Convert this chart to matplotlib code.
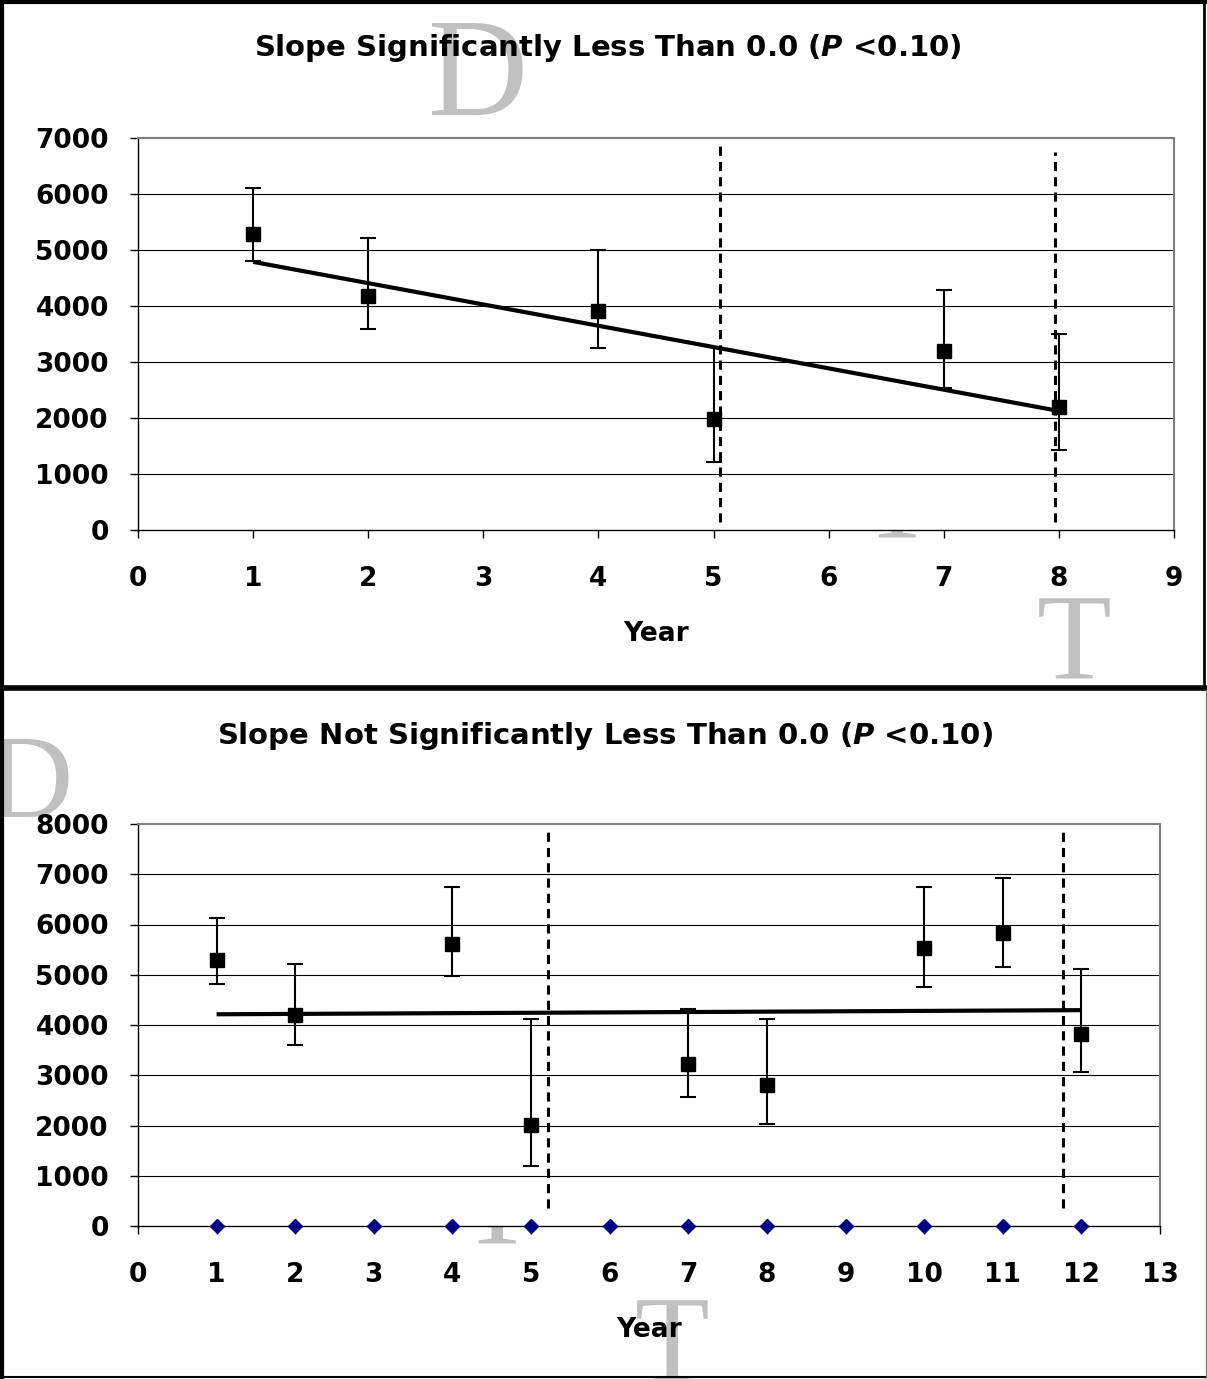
import numpy as np
import matplotlib
matplotlib.use("Agg")
import matplotlib.pyplot as plt
from matplotlib.lines import Line2D

plt.rcParams['font.family'] = ['DejaVu Sans']
plt.rcParams['font.weight'] = 'bold'
plt.rcParams['mathtext.fontset'] = 'custom'
plt.rcParams['mathtext.it'] = 'DejaVu Sans:italic:bold'
plt.rcParams['mathtext.rm'] = 'DejaVu Sans:bold'
plt.rcParams['mathtext.bf'] = 'DejaVu Sans:bold'

# ---------------- data ----------------
top_title = "Slope Significantly Less Than 0.0 ($P$ <0.10)"
top_years = [1, 2, 4, 5, 7, 8]
top_values = [5284, 4182, 3913, 1980, 3190, 2193]
top_upper = [6106, 5213, 5000, 3264, 4283, 3497]
top_lower = [4800, 3592, 3258, 1221, 2532, 1430]
top_xticks = list(range(0, 10))
top_yticks = list(range(0, 8000, 1000))
top_cut_x = [5.06, 7.97]
top_cut_y0 = [148, 148]
top_cut_y1 = [6860, 6750]

bot_title = "Slope Not Significantly Less Than 0.0 ($P$ <0.10)"
bot_years = [1, 2, 4, 5, 7, 8, 10, 11, 12]
bot_values = [5299, 4203, 5605, 2006, 3215, 2797, 5526, 5831, 3819]
bot_upper = [6129, 5213, 6741, 4118, 4317, 4118, 6741, 6926, 5108]
bot_lower = [4808, 3594, 4968, 1203, 2570, 2032, 4761, 5147, 3056]
bot_zero_x = list(range(1, 13))
bot_zero_y = [0] * 12
bot_xticks = list(range(0, 14))
bot_yticks = list(range(0, 9000, 1000))
bot_cut_x = [5.21, 11.76]
bot_cut_y0 = [352, 352]
bot_cut_y1 = [7896, 7896]

W, H = 1207, 1379
fig = plt.figure(figsize=(W / 100, H / 100), dpi=100)
fig.patch.set_facecolor('white')

FS = 19
TFS = 21
GREY_WM = '#c0c0c0'


def fx(px):
    return px / W


def fy(py):
    return 1 - py / H


def make_axes(rect, years, vals, up, lo, xticks, yticks, xmax, ymax,
              cut_x, cut_y0, cut_y1):
    ax = fig.add_axes(rect)
    ax.set_facecolor('white')
    ax.set_xlim(0, xmax)
    ax.set_ylim(0, ymax)
    ax.set_xticks(xticks)
    ax.set_yticks(yticks)
    ax.set_xticklabels([str(t) for t in xticks])
    ax.set_yticklabels([str(t) for t in yticks])
    for t in yticks[1:-1]:
        ax.axhline(t, color='black', lw=0.8, zorder=1)
    ax.spines['left'].set_color('black')
    ax.spines['bottom'].set_color('black')
    ax.spines['left'].set_linewidth(1.0)
    ax.spines['bottom'].set_linewidth(1.0)
    ax.spines['top'].set_color('#808080')
    ax.spines['right'].set_color('#808080')
    ax.spines['top'].set_linewidth(1.5)
    ax.spines['right'].set_linewidth(1.5)
    ax.tick_params(axis='both', direction='out', length=6, width=1,
                   color='black', labelsize=FS)
    ax.tick_params(axis='x', pad=20)
    ax.tick_params(axis='y', pad=15)
    for lab in ax.get_xticklabels() + ax.get_yticklabels():
        lab.set_fontweight('bold')
    # error bars + markers
    v = np.array(vals, float)
    yerr = np.vstack([v - np.array(lo, float), np.array(up, float) - v])
    ax.errorbar(years, vals, yerr=yerr, fmt='s', color='black', ms=10,
                mfc='black', mec='black', ecolor='black', elinewidth=1.5,
                capsize=6, capthick=1.5, zorder=4)
    # linear trend (least-squares fit of the plotted data)
    coef = np.polyfit(years, vals, 1)
    xs = np.array([min(years), max(years)], float)
    ax.plot(xs, np.polyval(coef, xs), color='black', lw=3, zorder=3,
            solid_capstyle='butt')
    # dashed period boundaries
    for x, y0, y1 in zip(cut_x, cut_y0, cut_y1):
        ax.plot([x, x], [y0, y1], color='black', lw=2.2,
                linestyle=(0, (3, 2)), zorder=5)
    ax.set_xlabel('Year', fontsize=FS, fontweight='bold', labelpad=21)
    return ax


# watermark letters (behind plot areas)
wm = dict(family='Liberation Serif', fontweight='normal', color=GREY_WM,
          ha='center', va='baseline', zorder=-5)
fig.text(fx(477), fy(115), 'D', fontsize=100, **wm)
fig.text(fx(897), fy(537), 'T', fontsize=88, **wm)
fig.text(fx(1074), fy(678), 'T', fontsize=88, **wm)
fig.text(fx(30), fy(817), 'D', fontsize=86, **wm)
fig.text(fx(497), fy(1243), 'T', fontsize=88, **wm)
fig.text(fx(672), fy(1381), 'T', fontsize=88, **wm)

ax1 = make_axes([fx(138), fy(530), fx(1174) - fx(138), fy(138) - fy(530)],
                top_years, top_values, top_upper, top_lower,
                top_xticks, top_yticks, 9, 7000,
                top_cut_x, top_cut_y0, top_cut_y1)

ax2 = make_axes([fx(138), fy(1226), fx(1160) - fx(138), fy(824) - fy(1226)],
                bot_years, bot_values, bot_upper, bot_lower,
                bot_xticks, bot_yticks, 13, 8000,
                bot_cut_x, bot_cut_y0, bot_cut_y1)
ax2.plot(bot_zero_x, bot_zero_y, linestyle='none', marker='D', ms=7.2,
         color='#000080', clip_on=False, zorder=6)

fig.text(fx(608), fy(48), top_title, fontsize=TFS, fontweight='bold',
         ha='center', va='center')
fig.text(fx(605), fy(736), bot_title, fontsize=TFS, fontweight='bold',
         ha='center', va='center')

# panel borders
def fline(x0, y0, x1, y1, lw, color='black'):
    fig.add_artist(Line2D([fx(x0), fx(x1)], [fy(y0), fy(y1)],
                          transform=fig.transFigure, color=color,
                          lw=lw, solid_capstyle='projecting', zorder=10))

fline(2, 0, 2, 1379, 3.0)
fline(0, 2, 1207, 2, 3.0)
fline(1204, 0, 1204, 688, 2.0)
fline(0, 688, 1207, 688, 4.0)
fline(0, 1377, 1207, 1377, 1.5)
fline(1206, 690, 1206, 1379, 1.0, '#808080')

fig.savefig('out.png', dpi=100, facecolor='white')
